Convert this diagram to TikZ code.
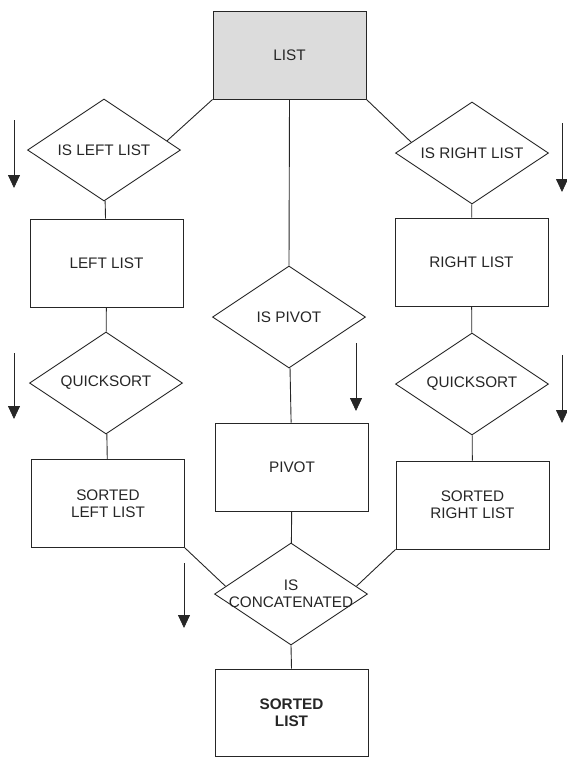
\documentclass[tikz,border=0pt]{standalone}
\usepackage{fontspec}
\setmainfont{Liberation Sans}
\usepackage{tikz}
\usetikzlibrary{arrows.meta}
\usetikzlibrary{calc,shapes.geometric}

\definecolor{ink}{HTML}{262626}
\definecolor{stipple}{HTML}{DCDCDC}

\begin{document}
\begin{tikzpicture}[x=1pt,y=1pt,line width=0.9pt,draw=ink,text=ink,
    font=\fontsize{15.3}{17}\selectfont,
    box/.style={draw=ink,rectangle,minimum width=153pt,minimum height=88pt,inner sep=0pt,align=center},
    dmd/.style={draw=ink,diamond,minimum width=153pt,minimum height=102pt,inner sep=0pt},
    flow/.style={draw=ink,line width=0.8pt,-{Triangle[width=12pt,length=13pt]}}]

		\useasboundingbox (0,0) rectangle (567,-758);

		% top
		\node[box,fill=stipple] (list) at (289.5,-55) {LIST};

		% left column
		\node[dmd,label={center:IS LEFT LIST}] (isleft) at (104,-150) {};
		\node[box] (leftlist) at (106.5,-263) {LEFT LIST};
		\node[dmd,label={center:QUICKSORT}] (qsleft) at (106,-383) {};
		\node[box] (sortedleft) at (108,-503.5) {SORTED\\LEFT LIST};

		% right column
		\node[dmd,label={center:IS RIGHT LIST}] (isright) at (472,-153) {};
		\node[box] (rightlist) at (471.5,-262) {RIGHT LIST};
		\node[dmd,label={center:QUICKSORT}] (qsright) at (472,-384) {};
		\node[box] (sortedright) at (472.5,-505) {SORTED\\RIGHT LIST};

		% middle column
		\node[dmd,label={center:IS PIVOT}] (ispivot) at (289,-317) {};
		\node[box] (pivot) at (292,-467) {PIVOT};
		\node[dmd,label={[align=center]center:IS\\CONCATENATED}] (concat) at (291,-594) {};
		\node[box,minimum height=87pt,font=\fontsize{15.3}{17}\selectfont\bfseries] (sortedlist) at (291.5,-712.5) {SORTED\\LIST};

		\draw (list.south west) -- ($(isleft.north)!0.82!(isleft.east)$);
		\draw (list.south east) -- ($(isright.north)!0.79!(isright.west)$);
		\draw (list.south) -- (ispivot.north);

		\draw (isleft) -- (leftlist) -- (qsleft) -- (sortedleft);
		\draw (isright) -- (rightlist) -- (qsright) -- (sortedright);
		\draw (ispivot) -- (pivot) -- (concat);

		\draw (sortedleft.south east) -- ($(concat.west)!0.15!(concat.north)$);
		\draw (sortedright.south west) -- ($(concat.east)!0.15!(concat.north)$);
		\draw (concat.south) -- (sortedlist.north);

		% direction arrows
		\foreach \x/\ya/\yb [count=\i] in {14/120/188, 562/123/192, 14/353/419, 356/343/411, 562/355/423, 184/563/628}{
			\coordinate (from\i) at (\x,-\ya);
			\coordinate (to\i) at (\x,-\yb);
			\draw[flow] (from\i) -- (to\i);
		}

\end{tikzpicture}
\end{document}
